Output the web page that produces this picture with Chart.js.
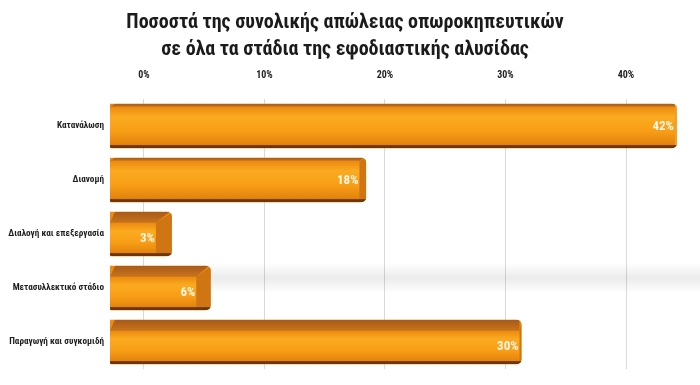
<!DOCTYPE html>
<html><head><meta charset="utf-8">
<script src="https://cdn.jsdelivr.net/npm/chart.js@4.4.1/dist/chart.umd.min.js"></script>
<style>html,body{margin:0;padding:0;background:#fff}canvas{display:block}</style>
</head><body>
<canvas id="c" width="700" height="385"></canvas>
<script>
const titleLines = ['Ποσοστά της συνολικής απώλειας οπωροκηπευτικών', 'σε όλα τα στάδια της εφοδιαστικής αλυσίδας'];
const categories = ['Κατανάλωση', 'Διανομή', 'Διαλογή και επεξεργασία', 'Μετασυλλεκτικό στάδιο', 'Παραγωγή και συγκομιδή'];
const lossPercent = [42, 18, 3, 6, 30];
const tickValues = [0, 10, 20, 30, 40];

const FONT = "'Roboto Condensed', Roboto, sans-serif";
const COND = 'bold condensed';

const bar3d = {
  id: 'bar3d',
  beforeDatasetsDraw(chart) {
    const {ctx, chartArea, scales} = chart;
    const yc = (scales.y.getPixelForValue(2) + scales.y.getPixelForValue(3)) / 2 + 17;
    ctx.save();
    const g = ctx.createLinearGradient(0, yc - 15, 0, yc + 15);
    g.addColorStop(0, 'rgba(0,0,0,0)');
    g.addColorStop(0.5, 'rgba(0,0,0,0.08)');
    g.addColorStop(1, 'rgba(0,0,0,0)');
    ctx.fillStyle = g;
    ctx.fillRect(chartArea.left, yc - 15, chartArea.right - chartArea.left + 20, 30);
    ctx.restore();
  },
  afterDatasetsDraw(chart) {
    const ctx = chart.ctx;
    const meta = chart.getDatasetMeta(0);
    meta.data.forEach((el, i) => {
      const p = el.getProps(['x', 'y', 'base', 'height'], true);
      const top = p.y - p.height / 2, bot = p.y + p.height / 2;
      const left = p.base, right = p.x;
      const band = i < 2 ? 3 : 11;
      const side = Math.max(2, Math.min(16, (500 - right) * 0.05));
      ctx.save();
      ctx.beginPath();
      ctx.roundRect(left, top, right - left, bot - top, [2, 5, 5, 2]);
      ctx.clip();
      const g = ctx.createLinearGradient(0, top + band, 0, bot);
      g.addColorStop(0, '#ec8a12');
      g.addColorStop(0.25, '#fbab20');
      g.addColorStop(0.6, '#f79d16');
      g.addColorStop(0.9, '#e4840d');
      g.addColorStop(1, '#c56c0a');
      ctx.fillStyle = g;
      ctx.fillRect(left, top, right - left, bot - top);
      ctx.beginPath();
      ctx.moveTo(left + 5, top);
      ctx.lineTo(right - 2, top);
      ctx.lineTo(right - side, top + band);
      ctx.lineTo(left, top + band);
      ctx.closePath();
      const gt = ctx.createLinearGradient(0, top, 0, top + band);
      gt.addColorStop(0, '#a85a18');
      gt.addColorStop(1, '#c8741c');
      ctx.fillStyle = gt;
      ctx.fill();
      ctx.beginPath();
      ctx.moveTo(right - side, top + band);
      ctx.lineTo(right, top + 1);
      ctx.lineTo(right, bot - 4);
      ctx.lineTo(right - side, bot);
      ctx.closePath();
      ctx.fillStyle = i === 0 ? '#f2a02a' : '#cf7513';
      ctx.fill();
      ctx.fillStyle = '#6e3608';
      ctx.fillRect(left, bot - 3, right - left, 3);
      ctx.restore();
      ctx.save();
      ctx.fillStyle = '#fff6e6';
      ctx.font = COND + ' 13px ' + FONT;
      ctx.textAlign = 'right';
      ctx.textBaseline = 'middle';
      ctx.fillText(lossPercent[i] + '%', right - side - 1, (top + band + bot - 3) / 2 + 1);
      ctx.restore();
    });
  }
};

new Chart(document.getElementById('c'), {
  type: 'bar',
  data: {
    labels: categories,
    datasets: [{
      data: lossPercent,
      xAxisID: 'x2',
      base: -1.78,
      backgroundColor: '#f39513',
      borderRadius: {topRight: 5, bottomRight: 5},
      borderSkipped: false,
      barPercentage: 0.82,
      categoryPercentage: 1
    }]
  },
  options: {
    responsive: false,
    animation: false,
    devicePixelRatio: 1,
    indexAxis: 'y',
    layout: {padding: {left: 0, right: 10, top: 0, bottom: 16}},
    plugins: {
      legend: {display: false},
      tooltip: {enabled: false},
      title: {
        display: true,
        text: titleLines,
        color: '#1b1b1b',
        font: {family: FONT, size: 20, weight: COND, lineHeight: 1.35},
        padding: {top: 9.5, bottom: 2.5}
      }
    },
    scales: {
      x: {
        position: 'top',
        min: -2.82,
        max: 45.31,
        afterBuildTicks: s => { s.ticks = tickValues.map(v => ({value: v})); },
        afterFit: s => { s.height = 33; },
        grid: {color: '#d9d9d9', drawTicks: false},
        border: {display: false},
        ticks: {padding: 18, color: '#222', font: {family: FONT, size: 10, weight: COND}, callback: v => v + '%'}
      },
      x2: {display: false, position: 'top', min: -1.78, max: 43.01},
      y: {
        afterFit: s => { s.width = 110; },
        grid: {display: false, drawTicks: false},
        border: {display: false},
        ticks: {padding: 6, color: '#1e1e1e', font: {family: FONT, size: 9.2, weight: COND}}
      }
    }
  },
  plugins: [bar3d]
});
</script>
</body></html>
